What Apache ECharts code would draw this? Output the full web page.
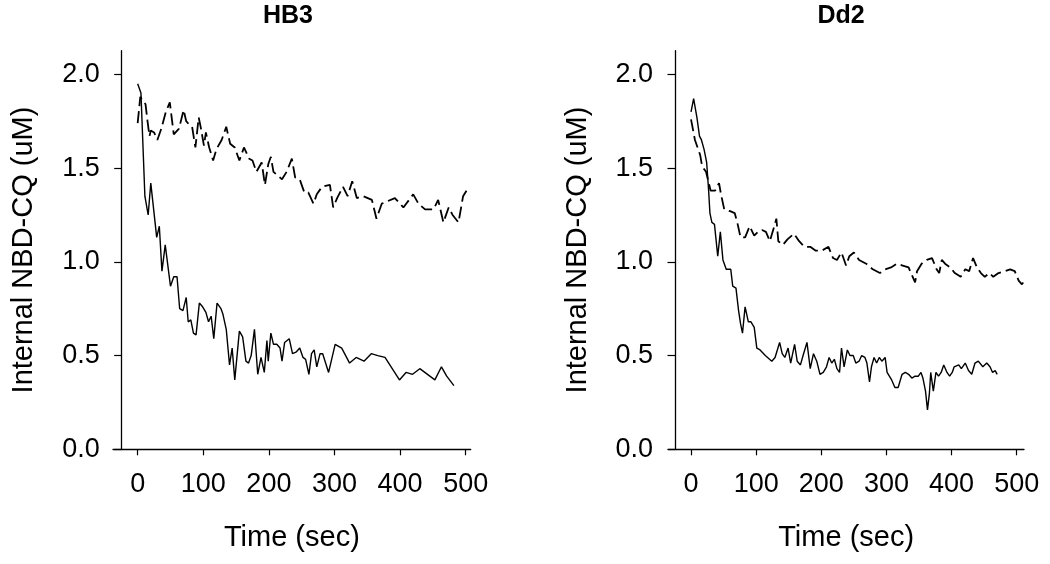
<!DOCTYPE html>
<html><head><meta charset="utf-8">
<script src="https://cdn.jsdelivr.net/npm/echarts@6/dist/echarts.min.js"></script>
<style>html,body{margin:0;padding:0;background:#fff}#c{width:1050px;height:564px}</style>
</head><body><div id="c"></div>
<script>
const panelTitles = ['HB3', 'Dd2'];
const xTicks = [0, 100, 200, 300, 400, 500];
const yTicks = [0, 0.5, 1.0, 1.5, 2.0];
const xName = 'Time (sec)';
const yName = 'Internal NBD-CQ (uM)';

// HB3 panel: [time (sec), concentration (uM)]
const hb3Solid = [[0,1.95],[5,1.90],[11,1.35],[16,1.25],[20,1.42],[29,1.13],[33,1.19],[37,0.95],[42,1.09],[50,0.87],[55,0.92],[60,0.92],[64,0.75],[69,0.74],[74,0.81],[77,0.68],[81,0.69],[85,0.62],[89,0.61],[94,0.78],[99,0.76],[104,0.73],[108,0.68],[112,0.71],[116,0.59],[121,0.78],[127,0.75],[130,0.72],[135,0.64],[140,0.45],[144,0.54],[148,0.37],[155,0.63],[160,0.60],[165,0.47],[169,0.46],[173,0.50],[178,0.64],[183,0.40],[188,0.49],[193,0.41],[197,0.58],[199,0.47],[203,0.62],[207,0.56],[212,0.56],[217,0.54],[220,0.47],[224,0.57],[231,0.59],[236,0.51],[242,0.52],[247,0.54],[252,0.49],[256,0.48],[261,0.40],[265,0.51],[269,0.53],[273,0.44],[278,0.51],[282,0.51],[291,0.41],[301,0.56],[311,0.54],[323,0.46],[333,0.49],[345,0.47],[356,0.51],[366,0.50],[377,0.49],[399,0.37],[409,0.41],[419,0.40],[430,0.43],[453,0.37],[463,0.44],[471,0.39],[482,0.34]];
const hb3Dashed = [[0,1.74],[4,1.88],[12,1.84],[15,1.75],[18,1.67],[20,1.70],[25,1.69],[30,1.65],[36,1.71],[43,1.80],[49,1.85],[55,1.68],[63,1.71],[70,1.81],[74,1.75],[79,1.73],[83,1.72],[88,1.61],[93,1.77],[96,1.72],[101,1.62],[104,1.69],[109,1.61],[115,1.54],[120,1.60],[128,1.65],[135,1.72],[141,1.63],[148,1.61],[155,1.54],[162,1.61],[170,1.55],[175,1.54],[181,1.48],[189,1.53],[194,1.41],[199,1.52],[203,1.56],[207,1.48],[220,1.44],[227,1.48],[235,1.55],[240,1.45],[247,1.44],[254,1.37],[260,1.37],[268,1.31],[273,1.36],[281,1.40],[293,1.41],[298,1.29],[304,1.34],[313,1.40],[320,1.35],[327,1.43],[334,1.34],[344,1.35],[357,1.33],[364,1.23],[372,1.31],[392,1.34],[405,1.29],[420,1.36],[428,1.31],[438,1.28],[451,1.28],[458,1.33],[466,1.21],[474,1.29],[480,1.25],[489,1.21],[496,1.35],[503,1.39]];

// Dd2 panel
const dd2Solid = [[0,1.80],[4,1.87],[9,1.77],[13,1.67],[16,1.65],[20,1.60],[24,1.53],[27,1.38],[29,1.26],[32,1.21],[36,1.20],[41,1.03],[45,1.16],[49,1.01],[54,0.96],[61,0.96],[64,0.87],[69,0.86],[73,0.74],[76,0.67],[79,0.62],[83,0.76],[88,0.68],[92,0.68],[97,0.65],[101,0.54],[106,0.53],[114,0.50],[124,0.47],[129,0.49],[136,0.57],[140,0.51],[144,0.49],[149,0.54],[153,0.46],[159,0.56],[163,0.47],[168,0.45],[172,0.50],[178,0.57],[183,0.43],[188,0.51],[193,0.47],[198,0.40],[203,0.41],[208,0.44],[212,0.49],[216,0.46],[220,0.48],[224,0.43],[228,0.41],[231,0.54],[235,0.44],[240,0.53],[244,0.50],[249,0.50],[253,0.46],[258,0.47],[262,0.50],[267,0.49],[270,0.46],[274,0.36],[277,0.44],[281,0.49],[285,0.46],[289,0.49],[293,0.47],[298,0.49],[301,0.41],[308,0.37],[313,0.33],[318,0.33],[324,0.40],[329,0.41],[334,0.40],[339,0.38],[344,0.39],[349,0.39],[353,0.41],[356,0.38],[360,0.31],[363,0.21],[366,0.30],[368,0.41],[372,0.31],[376,0.41],[380,0.39],[384,0.41],[388,0.45],[393,0.41],[397,0.39],[401,0.41],[404,0.44],[407,0.43],[411,0.45],[415,0.43],[421,0.46],[426,0.42],[431,0.40],[436,0.46],[441,0.47],[448,0.44],[454,0.46],[459,0.44],[463,0.41],[467,0.42],[470,0.40]];
const dd2Dashed = [[0,1.76],[6,1.65],[14,1.57],[17,1.51],[23,1.48],[28,1.41],[30,1.38],[37,1.38],[43,1.42],[46,1.36],[51,1.28],[60,1.27],[67,1.26],[71,1.21],[76,1.13],[83,1.13],[90,1.19],[97,1.14],[103,1.16],[109,1.17],[115,1.16],[121,1.11],[127,1.18],[131,1.23],[134,1.11],[141,1.09],[148,1.12],[158,1.15],[166,1.11],[174,1.08],[183,1.08],[191,1.06],[201,1.06],[211,1.08],[218,1.02],[224,1.01],[231,1.05],[238,0.98],[243,1.03],[250,1.05],[258,1.01],[269,0.99],[279,0.96],[290,0.94],[298,0.96],[307,0.97],[316,0.99],[325,0.98],[334,0.97],[339,0.93],[344,0.89],[347,0.95],[354,0.99],[362,1.01],[370,1.02],[377,0.96],[381,0.94],[385,1.01],[390,0.99],[398,0.97],[405,0.94],[414,0.92],[421,0.96],[427,0.95],[433,1.02],[439,0.97],[445,0.94],[451,0.92],[458,0.94],[464,0.92],[472,0.94],[482,0.95],[490,0.96],[497,0.95],[503,0.90],[508,0.88],[510,0.89]];

const FONT = '"Liberation Sans", Arial, Helvetica, sans-serif';
const INK = '#000';

const grids = [
  {left: 113, top: 50.7, width: 357.7, height: 398.6},
  {left: 668.3, top: 50.7, width: 355.7, height: 398.6}
];
const xRanges = [[-37.6, 507.6], [-34.9, 511.2]];
const yOffsets = [-8.7, -6.7];
const titleCenters = [288, 841];

function xAxisFor(i) {
  return {
    type: 'value', gridIndex: i, min: xRanges[i][0], max: xRanges[i][1],
    name: xName, nameLocation: 'middle', nameGap: 74,
    nameTextStyle: {fontFamily: FONT, fontSize: 29, color: INK},
    axisLine: {show: true, onZero: false, lineStyle: {color: INK, width: 1.3}},
    axisTick: {show: true, length: 6, customValues: xTicks, lineStyle: {color: INK, width: 1.2}},
    axisLabel: {customValues: xTicks, fontFamily: FONT, fontSize: 27, color: INK, margin: 22},
    splitLine: {show: false}
  };
}
function yAxisFor(i) {
  return {
    type: 'value', gridIndex: i, min: 0, max: 2.126, offset: yOffsets[i],
    name: yName, nameLocation: 'middle', nameGap: 83,
    nameTextStyle: {fontFamily: FONT, fontSize: 29, color: INK},
    axisLine: {show: true, onZero: false, lineStyle: {color: INK, width: 1.3}},
    axisTick: {show: true, length: 7.5, customValues: yTicks, lineStyle: {color: INK, width: 1.2}},
    axisLabel: {customValues: yTicks, fontFamily: FONT, fontSize: 27, color: INK, margin: 22,
      formatter: v => Number(v).toFixed(1)},
    splitLine: {show: false}
  };
}
function lineSeries(i, data, dashed) {
  return {
    type: 'line', xAxisIndex: i, yAxisIndex: i, data: data,
    showSymbol: false, symbol: 'none', smooth: false,
    lineStyle: dashed ? {color: INK, width: 1.8, type: [12, 5]} : {color: INK, width: 1.4, type: 'solid'}
  };
}

const chart = echarts.init(document.getElementById('c'), null, {renderer: 'canvas'});
chart.setOption({
  animation: false,
  backgroundColor: '#fff',
  title: panelTitles.map((t, i) => ({
    text: t, left: titleCenters[i], top: 4, textAlign: 'center', padding: 0,
    textStyle: {fontFamily: FONT, fontSize: 25, fontWeight: 'bold', color: INK}
  })),
  grid: grids,
  xAxis: [xAxisFor(0), xAxisFor(1)],
  yAxis: [yAxisFor(0), yAxisFor(1)],
  series: [
    lineSeries(0, hb3Solid, false),
    lineSeries(0, hb3Dashed, true),
    lineSeries(1, dd2Solid, false),
    lineSeries(1, dd2Dashed, true)
  ]
});
</script>
</body></html>
